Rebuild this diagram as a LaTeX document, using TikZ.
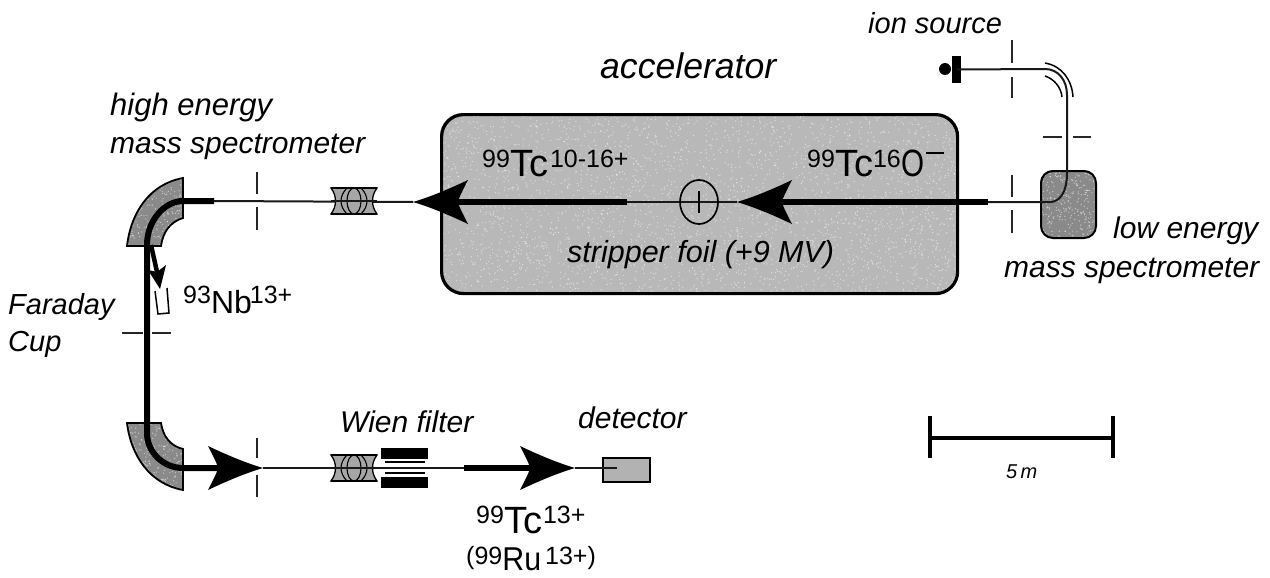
\documentclass[tikz,border=0pt]{standalone}
\usepackage{fontspec}
\usetikzlibrary{shapes.geometric}
\setmainfont{Liberation Sans}
\newcommand{\hi}[1]{\raisebox{9.5pt}{\fontsize{25}{25}\selectfont #1}}
\newcommand{\speckle}[5]{% x0 y0 w h n
  \foreach \k in {1,...,#5}{
    \pgfmathsetmacro{\px}{#1+rnd*#3}
    \pgfmathsetmacro{\py}{#2+rnd*#4}
    \fill[white,opacity=0.5] (\px,\py) circle (0.7);
  }}
\tikzset{
  thinbeam/.style={line width=2pt,draw=black!90},
  thickbeam/.style={line width=6pt,draw=black,line cap=butt},
  slit/.style={line width=1.6pt,draw=black!85},
  lbl/.style={anchor=base west,inner sep=0pt,font=\fontsize{30}{30}\selectfont\itshape},
  iso/.style={anchor=base west,inner sep=0pt,font=\fontsize{38}{38}\selectfont},
  beamhead/.pic={\fill[black] (0,0) .. controls (-20,-6) and (-38,-14) .. (-55,-22) .. controls (-50,-12) and (-46,-5) .. (-45,0) .. controls (-46,5) and (-50,12) .. (-55,22) .. controls (-38,14) and (-20,6) .. (0,0) -- cycle;},
  quadlens/.pic={
    \filldraw[fill=black!35,draw=black,line width=1.3pt] (-23,-13) -- (23,-13) .. controls (17,-5) and (17,5) .. (23,13) -- (-23,13) .. controls (-17,5) and (-17,-5) .. (-23,-13) -- cycle;
    \draw[line width=2.4pt] (-23,-13) -- (23,-13) (-23,13) -- (23,13);
    \draw[line width=1.1pt] (0,0) ellipse (7 and 13)
      (-7,-13) .. controls (-15,-5) and (-15,5) .. (-7,13) (7,-13) .. controls (15,-5) and (15,5) .. (7,13);
  }
}
\begin{document}
\begin{tikzpicture}[x=1pt,y=-1pt]
\pgfmathsetseed{4711}
\useasboundingbox (0,0) rectangle (1270,578);
\fill[white] (0,0) rectangle (1270,578);

% accelerator tank
\node[fill=black!28,rounded corners=22pt,minimum width=516pt,minimum height=179pt,inner sep=0pt,anchor=north west] (tankfill) at (440,113) {};
\begin{scope}
\clip[rounded corners=22pt] (440,113) rectangle (956,292);
\speckle{440}{113}{516}{179}{3200}
\end{scope}
\node[draw=black,line width=3.2pt,rounded corners=22pt,minimum width=516pt,minimum height=179pt,inner sep=0pt,anchor=north west] (tank) at (440,113) {};
% low energy magnet
\node[fill=black!46,rounded corners=12pt,minimum width=55pt,minimum height=67pt,inner sep=0pt,anchor=north west] (lowfill) at (1040,170) {};
\begin{scope}
\clip[rounded corners=12pt] (1040,170) rectangle (1095,237);
\speckle{1040}{170}{55}{67}{260}
\end{scope}
\node[draw=black,line width=2pt,rounded corners=12pt,minimum width=55pt,minimum height=67pt,inner sep=0pt,anchor=north west] (lowmag) at (1040,170) {};
% ion source
\node[circle,fill=black,minimum size=12pt,inner sep=0pt] (dot) at (945,69) {};
\node[fill=black,minimum width=9pt,minimum height=27pt,inner sep=0pt] (src) at (956.5,69.5) {};

% high energy magnets
\fill[black!46] (183,178) .. controls (150,184) and (131,212) .. (127,246) -- (161,246) .. controls (163,232) and (170,222) .. (183,218) -- cycle;
\begin{scope}
\clip (183,178) .. controls (150,184) and (131,212) .. (127,246) -- (161,246) .. controls (163,232) and (170,222) .. (183,218) -- cycle;
\speckle{127}{178}{56}{68}{240}
\end{scope}
\draw[line width=1.8pt] (183,178) .. controls (150,184) and (131,212) .. (127,246) -- (161,246) .. controls (163,232) and (170,222) .. (183,218) -- cycle;
\fill[black!46] (183,490) .. controls (150,484) and (131,456) .. (127,423) -- (161,423) .. controls (163,436) and (170,446) .. (183,449) -- cycle;
\begin{scope}
\clip (183,490) .. controls (150,484) and (131,456) .. (127,423) -- (161,423) .. controls (163,436) and (170,446) .. (183,449) -- cycle;
\speckle{127}{423}{56}{67}{240}
\end{scope}
\draw[line width=1.8pt] (183,490) .. controls (150,484) and (131,456) .. (127,423) -- (161,423) .. controls (163,436) and (170,446) .. (183,449) -- cycle;

% coordinates along the beam
\coordinate (b1) at (1045,69);
\coordinate (b2) at (1067,95);
\coordinate (b3) at (1067,173);
\coordinate (b4) at (1050,202);
\coordinate (b5) at (988,202);
\coordinate (b6) at (780,202);
\coordinate (h1) at (737,202);
\coordinate (b7) at (627,202);
\coordinate (b8) at (455,202);
\coordinate (h2) at (413,202);
\coordinate (b9) at (214,201);
\coordinate (b10) at (183,201);
\coordinate (b11) at (147,245);
\coordinate (b12) at (147,433);
\coordinate (b13) at (183,468);
\coordinate (b14) at (222,468);
\coordinate (h3) at (263,468);
\coordinate (b15) at (464,468);
\coordinate (b16) at (532,468);
\coordinate (h4) at (575,468);
\coordinate (b17) at (617,468);

% low energy beam
\draw[thinbeam] (src.center) -- (b1) .. controls (1058,69) and (1067,80) .. (b2) -- (b3) .. controls (1067,192) and (1060,202) .. (b4) -- (b5);
\draw[thickbeam] (b5) -- (b6);
\pic[rotate=180] at (h1) {beamhead};
\draw[thinbeam] (h1) -- (b7);
\draw[thickbeam] (b7) -- (b8);
\pic[rotate=180] at (h2) {beamhead};
\draw[thinbeam] (h2) -- (b9);
% high energy beam
\draw[line width=6pt,black] (b9) -- (b10) .. controls (165,201) and (147,220) .. (b11) -- (b12) .. controls (147,452) and (163,468) .. (b13) -- (b14);
\pic at (h3) {beamhead};
\draw[thinbeam] (h3) -- (b15);
\draw[thickbeam] (b15) -- (b16);
\pic at (h4) {beamhead};

% detector
\node[draw=black,line width=2.4pt,fill=black!30,minimum width=47pt,minimum height=24pt,inner sep=0pt,anchor=north west] (det) at (602,457) {};
\draw[thinbeam] (h4) -- (b17);

% stripper
\node[draw=black,line width=1.7pt,ellipse,minimum width=38pt,minimum height=44pt,inner sep=0pt] (foil) at (699,202) {};
\draw[line width=1.6pt] (699,191) -- (699,213);

% bend chamber
\draw[line width=1.5pt] (1045,63) .. controls (1062,66) and (1072,80) .. (1073,97);
\draw[line width=1.5pt] (1045,76) .. controls (1054,79) and (1061,87) .. (1062,97);

% lenses
\pic at (354,201) {quadlens};
\pic at (354,468) {quadlens};
\draw[thinbeam] (331,201) -- (377,201);
\draw[thinbeam] (331,468) -- (381,468);

% Wien filter
\node[fill=black,minimum width=47pt,minimum height=11pt,inner sep=0pt,anchor=north west] (wt) at (381,448) {};
\node[fill=black,minimum width=47pt,minimum height=11pt,inner sep=0pt,anchor=north west] (wb) at (381,477) {};
\draw[line width=1.5pt] (385,462) -- (425,462) (385,473) -- (425,473);
\draw[thinbeam] (381,468) -- (428,468);

% Faraday cup
\draw[line width=4.5pt,black] (151,245) -- (157,272);
\fill[black] (160,289) -- (148,270) -- (157,272) -- (166,265) -- cycle;
\draw[line width=1.5pt] (155,291) -- (158,314) -- (169,313) -- (167,288);

% slits
\draw[slit] (257,172) -- (257,194) (257,207) -- (257,230);
\draw[slit] (257,438) -- (257,458) (257,475) -- (257,497);
\draw[slit] (122,333) -- (143,333) (152,333) -- (171,333);
\draw[slit] (1012,40) -- (1012,63) (1012,77) -- (1012,98);
\draw[slit] (1012,175) -- (1012,197) (1012,210) -- (1012,233);
\draw[slit] (1043,137) -- (1062,137) (1073,137) -- (1091,137);

% scale
\draw[line width=3.5pt] (930,438) -- (1113,438);
\draw[line width=3.5pt] (930,416) -- (930,458) (1113,416) -- (1113,458);
\node[anchor=base west,inner sep=0pt,font=\fontsize{20}{20}\selectfont\itshape] (five) at (1006,478) {5\,m};

% labels
\node[lbl,font=\fontsize{29}{29}\selectfont\itshape] (ion) at (868,34) {ion source};
\node[lbl,font=\fontsize{35.6}{36}\selectfont\itshape] (acc) at (600,78) {accelerator};
\node[lbl,font=\fontsize{31}{31}\selectfont\itshape] (he1) at (110,115) {high energy};
\node[lbl] (he2) at (110,153) {mass spectrometer};
\node[lbl,font=\fontsize{30.5}{31}\selectfont\itshape] (sf) at (567,262) {stripper foil (+9 MV)};
\node[lbl] (le1) at (1113,238) {low energy};
\node[lbl] (le2) at (1004,277) {mass spectrometer};
\node[lbl,font=\fontsize{29}{29}\selectfont\itshape] (fa1) at (8,314) {Faraday};
\node[lbl,font=\fontsize{29}{29}\selectfont\itshape] (fa2) at (8,351) {Cup};
\node[lbl] (wien) at (340,432) {Wien filter};
\node[lbl] (detl) at (578,428) {detector};
\node[iso] (tc1) at (482,176.5) {\hi{99}Tc\kern2pt\hi{10-16+}};
\node[iso] (tc2) at (807,176.5) {\hi{99}Tc\hi{16}\kern1pt\scalebox{0.78}[1]{O}};
\draw[line width=2.2pt] (926,153) -- (944,153);
\node[iso,font=\fontsize{32}{32}\selectfont] (nb) at (183,313) {\hi{93}Nb\kern-2pt\hi{13+}};
\node[iso] (tc3) at (476,533) {\hi{99}Tc\kern1pt\hi{13+}};
\node[iso,font=\fontsize{33}{33}\selectfont] (ru) at (466,570) {\raisebox{-4pt}{\hi{(99}}\scalebox{0.92}[1]{Ru}\kern4pt\raisebox{-4pt}{\hi{13+)}}};
\end{tikzpicture}
\end{document}
